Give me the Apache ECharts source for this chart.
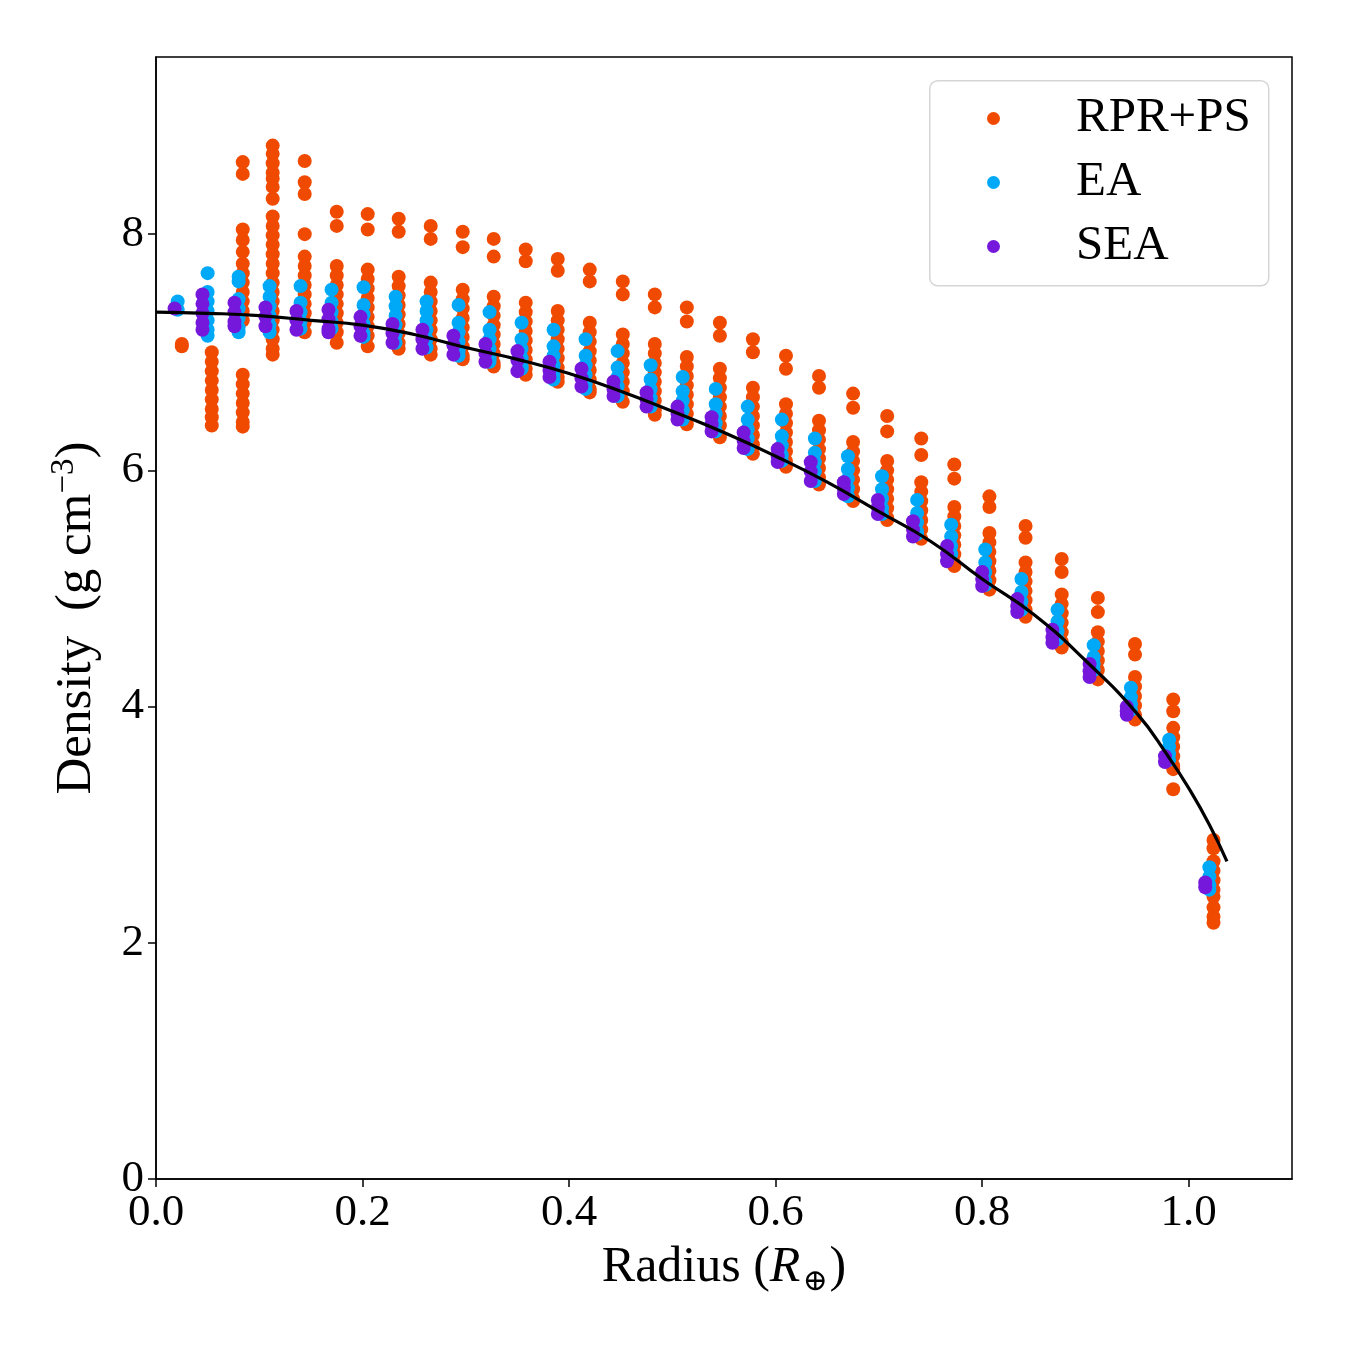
<!DOCTYPE html>
<html>
<head>
<meta charset="utf-8">
<script src="https://cdn.jsdelivr.net/npm/echarts@6/dist/echarts.min.js"></script>
<style>html,body{margin:0;padding:0;background:#fff;}#chart{width:1350px;height:1350px;}</style>
</head>
<body>
<div id="chart"></div>
<script>
// ---- Data ----
const seriesNames = ['RPR+PS', 'EA', 'SEA'];

const rprX = [0.025,0.054,0.084,0.113,0.144,0.175,0.205,0.235,0.266,0.297,0.327,0.358,0.389,0.420,0.452,0.483,0.514,0.546,0.578,0.610,0.642,0.675,0.708,0.741,0.773,0.807,0.842,0.877,0.912,0.948,0.985,1.024];
const rprY = [
  [7.07,7.05],
  [7.0,6.92,6.84,6.76,6.68,6.6,6.52,6.45,6.38],
  [8.61,8.51,8.04,7.95,7.85,7.75,7.67,7.59,7.51,7.43,7.35,7.27,6.81,6.73,6.65,6.57,6.49,6.41,6.37],
  [8.75,8.68,8.6,8.52,8.47,8.4,8.3,8.15,8.07,7.99,7.91,7.83,7.75,7.67,7.59,7.51,7.43,7.35,7.27,7.19,7.11,7.03,6.98],
  [8.62,8.44,8.34,8.0,7.81,7.73,7.65,7.57,7.49,7.41,7.33,7.25,7.17],
  [8.19,8.07,7.73,7.65,7.57,7.49,7.41,7.33,7.25,7.17,7.08],
  [8.17,8.04,7.7,7.62,7.54,7.46,7.38,7.3,7.22,7.14,7.05],
  [8.13,8.02,7.64,7.56,7.48,7.4,7.32,7.24,7.16,7.08,7.03],
  [8.07,7.96,7.59,7.51,7.43,7.35,7.27,7.19,7.11,7.03,6.98],
  [8.02,7.89,7.53,7.45,7.37,7.29,7.21,7.13,7.05,6.97,6.94],
  [7.96,7.81,7.47,7.39,7.31,7.23,7.15,7.07,6.99,6.91,6.88],
  [7.87,7.77,7.42,7.34,7.26,7.18,7.1,7.02,6.94,6.86,6.81],
  [7.79,7.69,7.35,7.27,7.19,7.11,7.03,6.95,6.87,6.79,6.75],
  [7.7,7.6,7.25,7.17,7.09,7.01,6.93,6.85,6.77,6.69,6.66],
  [7.6,7.49,7.15,7.07,6.99,6.91,6.83,6.75,6.67,6.58],
  [7.49,7.38,7.07,6.99,6.91,6.83,6.75,6.67,6.59,6.51,6.47],
  [7.38,7.26,6.96,6.88,6.8,6.72,6.64,6.56,6.48,6.39],
  [7.25,7.14,6.86,6.78,6.7,6.62,6.54,6.46,6.38,6.28],
  [7.11,7.0,6.7,6.62,6.54,6.46,6.38,6.3,6.22,6.14],
  [6.97,6.86,6.56,6.48,6.4,6.32,6.24,6.16,6.08,6.03],
  [6.8,6.7,6.42,6.34,6.26,6.18,6.1,6.02,5.94,5.88],
  [6.65,6.53,6.24,6.16,6.08,6.0,5.92,5.84,5.76,5.74],
  [6.46,6.33,6.08,6.0,5.92,5.84,5.76,5.68,5.6,5.58],
  [6.27,6.13,5.9,5.82,5.74,5.66,5.58,5.5,5.42],
  [6.05,5.93,5.69,5.61,5.53,5.45,5.37,5.29,5.21,5.19],
  [5.78,5.69,5.47,5.39,5.31,5.23,5.15,5.07,4.99],
  [5.53,5.43,5.22,5.14,5.06,4.98,4.9,4.82,4.76],
  [5.25,5.14,4.95,4.87,4.79,4.71,4.63,4.55,4.5],
  [4.92,4.8,4.63,4.55,4.47,4.39,4.31,4.23],
  [4.53,4.44,4.25,4.17,4.09,4.01,3.93,3.89],
  [4.06,3.96,3.82,3.74,3.66,3.58,3.5,3.47,3.3],
  [2.87,2.8,2.69,2.61,2.53,2.45,2.39,2.3,2.22,2.17]
];

const eaX = [0.021,0.050,0.080,0.110,0.140,0.170,0.201,0.232,0.262,0.293,0.323,0.354,0.385,0.416,0.447,0.479,0.510,0.542,0.573,0.606,0.638,0.670,0.703,0.737,0.770,0.803,0.838,0.873,0.908,0.944,0.981,1.020];
const eaY = [
  [7.43,7.36],
  [7.67,7.51,7.43,7.35,7.27,7.19,7.14],
  [7.64,7.6,7.45,7.37,7.29,7.21,7.17],
  [7.56,7.47,7.39,7.31,7.23,7.17],
  [7.56,7.42,7.34,7.26,7.2],
  [7.53,7.42,7.34,7.26,7.2],
  [7.55,7.4,7.32,7.24,7.16,7.13],
  [7.47,7.39,7.31,7.23,7.15,7.08],
  [7.43,7.35,7.27,7.19,7.11,7.04],
  [7.4,7.25,7.17,7.09,7.01,6.97],
  [7.34,7.19,7.11,7.03,6.95,6.92],
  [7.25,7.11,7.03,6.95,6.88,6.86],
  [7.19,7.05,6.97,6.89,6.81,6.77],
  [7.11,6.97,6.89,6.81,6.73,6.69],
  [7.01,6.87,6.79,6.71,6.63],
  [6.89,6.77,6.69,6.61,6.54],
  [6.79,6.67,6.59,6.51,6.43],
  [6.69,6.56,6.48,6.4,6.33],
  [6.54,6.43,6.35,6.27,6.18],
  [6.43,6.29,6.21,6.13,6.08],
  [6.27,6.15,6.07,5.99,5.91],
  [6.12,6.01,5.93,5.85,5.78],
  [5.95,5.84,5.76,5.68,5.63],
  [5.75,5.64,5.56,5.48,5.46],
  [5.54,5.44,5.36,5.29],
  [5.33,5.22,5.14,5.06,5.03],
  [5.08,4.97,4.89,4.82],
  [4.82,4.72,4.64,4.57],
  [4.52,4.42,4.36,4.31],
  [4.16,4.08,4.02,3.97],
  [3.72,3.66,3.6,3.55],
  [2.64,2.56,2.49,2.45]
];

const seaX = [0.018,0.045,0.076,0.106,0.136,0.167,0.198,0.229,0.258,0.288,0.319,0.350,0.381,0.412,0.443,0.475,0.505,0.538,0.569,0.602,0.634,0.666,0.699,0.733,0.766,0.800,0.834,0.868,0.904,0.940,0.977,1.016];
const seaY = [
  [7.37],
  [7.49,7.41,7.33,7.25,7.19],
  [7.42,7.34,7.26,7.22],
  [7.38,7.3,7.22],
  [7.35,7.27,7.19],
  [7.36,7.28,7.2,7.17],
  [7.3,7.22,7.14],
  [7.24,7.16,7.08],
  [7.19,7.11,7.03],
  [7.14,7.06,6.98],
  [7.07,6.99,6.92],
  [7.01,6.93,6.84],
  [6.92,6.85,6.79],
  [6.86,6.78,6.71],
  [6.75,6.69,6.63],
  [6.66,6.6,6.54],
  [6.54,6.48,6.43],
  [6.45,6.39,6.33],
  [6.32,6.25,6.19],
  [6.18,6.12,6.07],
  [6.07,5.99,5.91],
  [5.9,5.85,5.8],
  [5.75,5.69,5.63],
  [5.57,5.5,5.44],
  [5.36,5.29,5.23],
  [5.14,5.08,5.02],
  [4.91,4.85,4.8],
  [4.65,4.59,4.54],
  [4.36,4.3,4.25],
  [4.0,3.96,3.93],
  [3.58,3.53],
  [2.51,2.47]
];

const modelX = [0,0.05,0.1,0.15,0.2,0.25,0.3,0.35,0.4,0.45,0.5,0.55,0.6,0.65,0.7,0.75,0.8,0.85,0.9,0.95,0.98,1.0,1.02,1.037];
const modelY = [7.34,7.33,7.31,7.27,7.23,7.15,7.04,6.94,6.82,6.67,6.5,6.32,6.12,5.9,5.65,5.40,5.08,4.78,4.39,3.94,3.58,3.31,3.0,2.69];

const xTicks = [0.0,0.2,0.4,0.6,0.8,1.0];
const yTicks = [0,2,4,6,8];

const colors = ['#F04A00', '#00A9F8', '#7617DC'];

// ---- build ----
function toPairs(xs, ys) {
  const out = [];
  xs.forEach((x, i) => ys[i].forEach(y => out.push([x, y])));
  return out;
}
const FONT = '"Liberation Serif", "DejaVu Serif", serif';

const chart = echarts.init(document.getElementById('chart'));
chart.setOption({
  animation: false,
  backgroundColor: '#ffffff',
  grid: { left: 156, right: 58, top: 57, bottom: 171, show: true, borderColor: '#000', borderWidth: 1.5, backgroundColor: 'transparent', outerBoundsMode: 'none' },
  xAxis: {
    type: 'value', min: 0, max: 1.1,
    splitLine: { show: false },
    axisLine: { show: true, lineStyle: { color: '#000', width: 1.5 } },
    axisTick: { show: true, inside: false, length: 8, lineStyle: { color: '#000', width: 1.5 }, customValues: xTicks },
    axisLabel: { customValues: xTicks, margin: 12, color: '#000', fontFamily: FONT, fontSize: 45, formatter: v => v.toFixed(1) },
    name: '{a|Radius (}{i|R}{s|⊕}{a|)}',
    nameLocation: 'middle', nameGap: 60,
    nameTextStyle: {
      rich: {
        a: { fontFamily: FONT, fontSize: 50, color: '#000', lineHeight: 58 },
        i: { fontFamily: FONT, fontSize: 50, fontStyle: 'italic', color: '#000', lineHeight: 58, padding: [0, 2, 0, 0] },
        s: { fontFamily: '"DejaVu Serif", serif', fontSize: 30, color: '#000', verticalAlign: 'bottom', lineHeight: 58, padding: [0, 2, 0, 0] }
      }
    }
  },
  yAxis: {
    type: 'value', min: 0, max: 9.5,
    splitLine: { show: false },
    axisLine: { show: true, lineStyle: { color: '#000', width: 1.5 } },
    axisTick: { show: true, inside: false, length: 8, lineStyle: { color: '#000', width: 1.5 }, customValues: yTicks },
    axisLabel: { customValues: yTicks, margin: 12, color: '#000', fontFamily: FONT, fontSize: 45, formatter: v => String(v) },
    name: '{a|Density}{g| }{a|(g cm}{s|−3}{a|)}',
    nameLocation: 'middle', nameGap: 50, nameRotate: 90,
    nameTextStyle: {
      rich: {
        a: { fontFamily: FONT, fontSize: 51, color: '#000', lineHeight: 58 },
        g: { fontFamily: FONT, fontSize: 51, color: '#000', lineHeight: 58, padding: [0, 12, 0, 0] },
        s: { fontFamily: FONT, fontSize: 33, color: '#000', verticalAlign: 'top', lineHeight: 58 }
      }
    }
  },
  legend: {
    show: true,
    orient: 'vertical',
    left: 982, top: 89,
    itemWidth: 13, itemHeight: 13,
    itemGap: 15,
    icon: 'circle',
    z: 10,
    textStyle: { fontFamily: FONT, fontSize: 49, color: '#000', lineHeight: 44, padding: [0, 0, 0, 71] },
    data: seriesNames
  },
  graphic: [{
    type: 'rect', left: 929, top: 80, z: 1,
    shape: { width: 339, height: 205, r: 8 },
    style: { fill: 'rgba(255,255,255,0.8)', stroke: '#d5d5d5', lineWidth: 1.5 }
  }],
  series: [
    { name: seriesNames[0], type: 'scatter', symbol: 'circle', symbolSize: 14, itemStyle: { color: colors[0], opacity: 1 }, data: toPairs(rprX, rprY), z: 2 },
    { name: seriesNames[1], type: 'scatter', symbol: 'circle', symbolSize: 14, itemStyle: { color: colors[1], opacity: 1 }, data: toPairs(eaX, eaY), z: 3 },
    { name: seriesNames[2], type: 'scatter', symbol: 'circle', symbolSize: 14, itemStyle: { color: colors[2], opacity: 1 }, data: toPairs(seaX, seaY), z: 4 },
    { name: 'model', type: 'line', smooth: true, showSymbol: false, symbol: 'none', lineStyle: { color: '#000', width: 3.2 }, data: modelX.map((x, i) => [x, modelY[i]]), z: 5 }
  ]
});
</script>
</body>
</html>
